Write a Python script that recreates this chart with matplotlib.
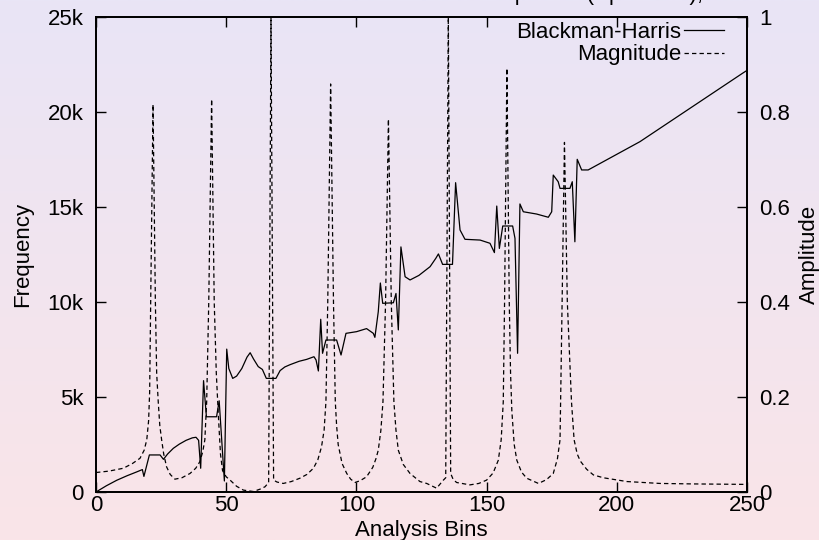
import numpy as np
import matplotlib.pyplot as plt
from matplotlib.ticker import FixedLocator, FixedFormatter

plt.rcParams['font.family'] = ['Liberation Sans', 'DejaVu Sans']

# estimated frequency per analysis bin (Blackman-Harris window)
bh_bins = [0, 4, 8, 12, 15.5, 17.8, 18.4, 20.5, 24.6, 25.9, 27.5, 29.7, 32, 34.6, 37,
           38.4, 39.4, 40.2, 41.3, 42.4, 46.3, 47.3, 49.3, 50.2, 51, 52.5, 54, 56, 58,
           59.2, 60.5, 62.3, 63.9, 65.4, 69.1, 70.7, 72.5, 74.5, 78, 80.9, 83.7, 84.5,
           85.4, 86.3, 87.0, 88.3, 92.4, 94.1, 96.0, 100.1, 103.9, 106.5, 107.1, 108.4,
           109.2, 110.1, 114.2, 115.2, 116.1, 117.1, 118.7, 120.6, 124, 128.3, 130.5,
           131.5, 132.7, 133.1, 136.9, 138.1, 139.8, 141.7, 147.5, 151.3, 153.0, 153.9,
           154.9, 156.2, 160.0, 160.9, 161.9, 162.8, 164.1, 169.2, 173.7, 175.0, 175.6,
           177.5, 178.2, 182.0, 182.9, 183.9, 184.8, 186.5, 189.0, 208.9, 248.3, 250]
bh_freq = [0, 330, 620, 860, 1050, 1180, 820, 1950, 1950, 1720, 2000, 2300, 2520, 2720, 2850,
           2880, 2720, 1250, 5860, 3960, 3960, 4800, 580, 7520, 6500, 5980, 6100, 6500, 7100,
           7330, 7000, 6600, 6450, 5980, 5980, 6390, 6580, 6700, 6880, 6980, 7120, 6950,
           6370, 9090, 7300, 8000, 8000, 7210, 8350, 8440, 8600, 8350, 8140, 9490,
           11000, 9930, 9960, 10450, 8530, 12900, 11330, 11160, 11400, 11860, 12300,
           12530, 12120, 11980, 11980, 16280, 13790, 13300, 13260, 13090, 12600, 15050,
           12820, 14000, 14000, 13350, 7300, 15160, 14750, 14630, 14460, 14750, 16680,
           16330, 15980, 15980, 16330, 13170, 17510, 16950, 16950, 18440, 22040, 22190]

# spectrum magnitude per bin
mag_bins = [0, 5, 10.5, 14, 16.9, 18.5, 19.5, 20.2, 20.6, 21.0, 21.9, 22.8, 23.3, 23.9,
            24.5, 25.2, 26, 27.1, 28.5, 30.3, 33, 36.1, 38.3, 39.9, 41.0, 41.8, 42.5,
            43.3, 44.4, 45.4, 46.2, 47.0, 47.8, 48.6, 50, 51.5, 54, 56.6, 60.4, 63, 64.9,
            66.3, 67.2, 68.2, 69.5, 71.9, 75, 78.3, 81, 83.5, 85.2, 86.6, 87.6, 88.3,
            89.0, 90.1, 91.2, 91.9, 92.4, 93, 94.5, 96.3, 97.8, 99.5, 101.5, 103.9,
            106.3, 107.5, 108.4, 109.4, 110.2, 111.2, 112.3, 113.4, 114.4, 115.2, 116.1,
            118, 120.6, 124.4, 127, 130.8, 133.4, 134.3, 135.3, 136.2, 137.2, 138.5,
            143.6, 147, 150, 152.5, 154.5, 155.6, 156.4, 156.9, 157.8, 158.7, 159.2,
            159.7, 160.6, 161.6, 163.4, 165.4, 169.9, 173, 175.6, 177.2, 178.2, 179.0,
            179.9, 181.0, 182.6, 183.6, 184.8, 186, 188.4, 191, 194.8, 203.9, 216.6,
            229.4, 250]
mag_amp = [0.041, 0.044, 0.050, 0.060, 0.071, 0.088, 0.11, 0.15, 0.21, 0.40, 0.816, 0.40,
           0.25, 0.19, 0.14, 0.11, 0.08, 0.053, 0.037, 0.027, 0.030, 0.039, 0.05, 0.064,
           0.085, 0.11, 0.19, 0.40, 0.827, 0.40, 0.25, 0.16, 0.08, 0.045, 0.032, 0.025,
           0.012, 0.004, 0.001, 0.006, 0.011, 0.02, 1.0, 0.025, 0.021, 0.018, 0.022,
           0.029, 0.037, 0.05, 0.068, 0.095, 0.13, 0.19, 0.40, 0.859, 0.40, 0.19, 0.14,
           0.10, 0.06, 0.039, 0.027, 0.020, 0.024, 0.032, 0.052, 0.07, 0.088, 0.13, 0.19,
           0.40, 0.785, 0.40, 0.19, 0.13, 0.088, 0.058, 0.039, 0.022, 0.018, 0.008, 0.025,
           0.03, 1.0, 0.039, 0.026, 0.02, 0.015, 0.018, 0.025, 0.04, 0.067, 0.11, 0.19,
           0.40, 0.892, 0.40, 0.25, 0.17, 0.10, 0.067, 0.042, 0.029, 0.018, 0.026, 0.039,
           0.07, 0.11, 0.40, 0.736, 0.40, 0.19, 0.11, 0.08, 0.065, 0.048, 0.036, 0.030,
           0.022, 0.018, 0.017, 0.016]

x_ticks = [0, 50, 100, 150, 200, 250]
freq_ticks = [0, 5000, 10000, 15000, 20000, 25000]
freq_labels = ['0', '5k', '10k', '15k', '20k', '25k']
amp_ticks = [0, 0.2, 0.4, 0.6, 0.8, 1]
amp_labels = ['0', '0.2', '0.4', '0.6', '0.8', '1']

fig = plt.figure(figsize=(8.2, 5.4), dpi=100)

# soft lavender-to-pink backdrop
bg = fig.add_axes([0, 0, 1, 1], zorder=-10)
grad = np.linspace(0, 1, 256)[:, None, None]
top = np.array([233, 229, 246]) / 255
bottom = np.array([250, 228, 232]) / 255
bg.imshow(top + (bottom - top) * grad, aspect='auto', extent=[0, 1, 0, 1])
bg.axis('off')

ax = fig.add_axes([96 / 820, 48 / 540, 651 / 820, 475 / 540])
ax.patch.set_alpha(0)
ax2 = ax.twinx()

l1, = ax.plot(bh_bins, bh_freq, color='black', lw=0.9)
l2, = ax2.plot(mag_bins, mag_amp, color='black', lw=0.9, linestyle=(0, (3.5, 2.5)))

ax.set_xlim(0, 250)
ax.set_ylim(0, 25000)
ax2.set_ylim(0, 1)

ax.xaxis.set_major_locator(FixedLocator(x_ticks))
ax.yaxis.set_major_locator(FixedLocator(freq_ticks))
ax.yaxis.set_major_formatter(FixedFormatter(freq_labels))
ax2.yaxis.set_major_locator(FixedLocator(amp_ticks))
ax2.yaxis.set_major_formatter(FixedFormatter(amp_labels))

ax.tick_params(axis='x', direction='in', length=7, width=1, labelsize=16, pad=2, top=True)
ax.tick_params(axis='y', direction='in', length=7, width=1, labelsize=16, pad=9)
ax2.tick_params(axis='y', direction='in', length=7, width=1, labelsize=16, pad=9)
for a in (ax, ax2):
    for s in a.spines.values():
        s.set_linewidth(1.3)

ax.set_xlabel('Analysis Bins', fontsize=16, labelpad=3)
ax.set_ylabel('Frequency', fontsize=16, labelpad=10)
ax2.set_ylabel('Amplitude', fontsize=16, labelpad=6)

ax.legend([l1, l2], ['Blackman-Harris', 'Magnitude'], loc='upper right',
          bbox_to_anchor=(0.965, 0.989), frameon=False, markerfirst=False,
          fontsize=16, handlelength=1.8, handletextpad=0.15, labelspacing=0.05,
          borderpad=0, borderaxespad=0)

fig.text(703 / 820, 1.0, 'Blackman-Harris Estimates and Amplitude (Spectrum),',
         ha='right', va='baseline', fontsize=16)

fig.savefig('out.png', dpi=100)
